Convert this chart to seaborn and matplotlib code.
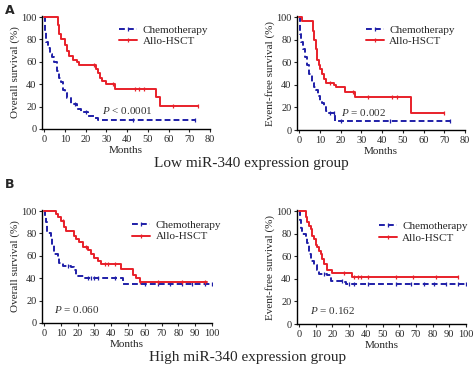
import numpy as np
import pandas as pd
import matplotlib
matplotlib.use('Agg')
import matplotlib.pyplot as plt
from matplotlib.lines import Line2D
import seaborn as sns

# Curvas de Kaplan-Meier (meses, supervivencia %)
a_os_chemo_t = [0, 0.3, 0.6, 1, 2, 3, 4, 5, 6, 7, 8, 9, 10, 11, 13, 16, 18, 21, 24, 26, 73]
a_os_chemo_s = [100, 95, 88, 78, 72, 67, 64, 60, 52, 46, 42, 35, 32, 28, 22, 18, 15, 12, 10, 8, 8]
a_os_chemo_c = [15, 20, 43, 73]
a_os_allo_t = [0, 6.5, 7, 8, 10, 11, 12, 14, 16, 17, 25, 26, 27, 28, 30, 34, 54, 56, 74]
a_os_allo_s = [100, 93, 85, 80, 75, 70, 65, 62, 60, 57, 54, 50, 46, 43, 40, 36, 29, 21, 21]
a_os_allo_c = [24, 33, 44, 46, 48, 62, 74]

a_efs_chemo_t = [0, 0.3, 0.6, 1, 2, 3, 4, 5, 6, 7, 8, 9, 10, 11, 12, 13, 14, 17.5, 73]
a_efs_chemo_s = [100, 92, 85, 78, 72, 65, 58, 50, 42, 38, 35, 30, 26, 24, 20, 17, 15, 8, 8]
a_efs_chemo_c = [15, 17, 20, 44, 73]
a_efs_allo_t = [0, 1.5, 6.5, 7, 8, 8.5, 9.5, 10, 11, 12, 13, 17, 18, 22, 27, 54, 70]
a_efs_allo_s = [100, 97, 88, 80, 72, 62, 58, 54, 50, 45, 42, 40, 38, 34, 29, 15, 15]
a_efs_allo_c = [15, 26, 33, 45, 47, 70]

b_os_chemo_t = [0, 0.5, 1, 2, 4, 5, 6, 8, 9, 11, 16, 18, 19, 24, 47, 100]
b_os_chemo_s = [100, 95, 90, 80, 78, 70, 62, 58, 54, 51, 50, 47, 42, 40, 35, 35]
b_os_chemo_c = [14, 26, 28, 30, 32, 42, 60, 68, 75, 82, 88, 96, 100]
b_os_allo_t = [0, 7, 8, 10, 12, 13, 18, 19, 21, 23, 26, 28, 30, 32, 34, 46, 53, 55, 57, 97]
b_os_allo_s = [100, 97, 95, 91, 86, 82, 78, 75, 72, 68, 65, 62, 58, 55, 53, 48, 43, 40, 37, 37]
b_os_allo_c = [11, 25, 36, 38, 42, 57, 68, 82, 96]

b_efs_chemo_t = [0, 0.5, 1, 2, 4, 5, 6, 7, 9, 11, 12, 17, 19, 27, 28, 100]
b_efs_chemo_s = [100, 92, 85, 80, 78, 72, 62, 56, 52, 48, 44, 43, 38, 37, 35, 35]
b_efs_chemo_c = [15, 26, 30, 33, 41, 58, 67, 75, 81, 88, 95, 100]
b_efs_allo_t = [0, 4, 5, 6, 7, 8, 9, 10, 11, 12, 13, 14, 15, 17, 20, 32, 95]
b_efs_allo_s = [100, 95, 90, 87, 84, 78, 75, 70, 68, 65, 62, 58, 53, 48, 45, 42, 42]
b_efs_allo_c = [27, 33, 35, 37, 41, 58, 68, 82, 95]

series_labels = ['Chemotherapy', 'Allo-HSCT']
p_texts = [r'$\it{P}$ < 0.0001', r'$\it{P}$ = 0.002', r'$\it{P}$ = 0.060', r'$\it{P}$ = 0.162']
group_titles = ['Low miR-340 expression group', 'High miR-340 expression group']

chemo_color = '#1f1fa8'
allo_color = '#e8202a'

sns.set_style('ticks')
plt.rcParams['font.family'] = ['Liberation Serif', 'DejaVu Serif']
plt.rcParams['mathtext.fontset'] = 'custom'
plt.rcParams['mathtext.it'] = 'Liberation Serif:italic'
plt.rcParams['mathtext.rm'] = 'Liberation Serif'

fig = plt.figure(figsize=(4.74, 3.67), dpi=100)
W, H = 474, 367


def make_ax(left, top, right, bottom):
    return fig.add_axes([left / W, 1 - bottom / H, (right - left) / W, (bottom - top) / H])


def step_value(t, s, x):
    i = np.searchsorted(t, x, side='right') - 1
    return np.asarray(s)[i]


def draw_curve(ax, t, s, c, color, dashed):
    df = pd.DataFrame({'t': t, 's': s})
    sns.lineplot(data=df, x='t', y='s', ax=ax, color=color, lw=1.4,
                 drawstyle='steps-post', estimator=None, sort=False,
                 dashes=False, linestyle=(0, (3, 1.6)) if dashed else '-')
    ax.plot(c, step_value(t, s, c), ls='none', marker='|', ms=3.5, mew=0.9, color=color)


panels = [
    (make_ax(42, 16, 210, 129), a_os_chemo_t, a_os_chemo_s, a_os_chemo_c,
     a_os_allo_t, a_os_allo_s, a_os_allo_c, 80, 'Overall survival (%)', (28, 13), (0.46, 0.92)),
    (make_ax(297, 16, 465, 130), a_efs_chemo_t, a_efs_chemo_s, a_efs_chemo_c,
     a_efs_allo_t, a_efs_allo_s, a_efs_allo_c, 80, 'Event-free survival (%)', (20, 12), (0.41, 0.92)),
    (make_ax(42, 210, 212, 323), b_os_chemo_t, b_os_chemo_s, b_os_chemo_c,
     b_os_allo_t, b_os_allo_s, b_os_allo_c, 100, 'Overall survival (%)', (6, 9), (0.53, 0.91)),
    (make_ax(297, 210, 466, 324), b_efs_chemo_t, b_efs_chemo_s, b_efs_chemo_c,
     b_efs_allo_t, b_efs_allo_s, b_efs_allo_c, 100, 'Event-free survival (%)', (6.5, 9), (0.485, 0.9)),
]

for k, (ax, ct, cs, cc, at, as_, ac, xmax, ylab, ppos, lpos) in enumerate(panels):
    draw_curve(ax, ct, cs, cc, chemo_color, True)
    draw_curve(ax, at, as_, ac, allo_color, False)
    ax.set_xlim(-xmax / 80, xmax)
    ax.set_ylim(0, 101)
    ax.set_xticks(np.arange(0, xmax + 1, 10))
    ax.set_yticks(np.arange(0, 101, 20))
    ax.tick_params(labelsize=7.5, length=2.5, width=0.8, pad=1.5)
    for sp in ['left', 'bottom']:
        ax.spines[sp].set_linewidth(1.0)
        ax.spines[sp].set_color('black')
    sns.despine(ax=ax)
    ax.set_xlabel('Months', fontsize=8, labelpad=2)
    ax.set_ylabel(ylab, fontsize=8, labelpad=1)
    ax.text(ppos[0], ppos[1], p_texts[k], fontsize=8, color='#333333')
    handles = [
        Line2D([], [], color=chemo_color, lw=1.4, ls=(0, (3, 1.6)), marker='|', ms=3.5, mew=0.9),
        Line2D([], [], color=allo_color, lw=1.4, marker='|', ms=3.5, mew=0.9),
    ]
    ax.legend(handles, series_labels, loc='upper left', bbox_to_anchor=lpos, frameon=False,
              fontsize=8, handlelength=1.6, handletextpad=0.5, borderpad=0,
              borderaxespad=0, labelspacing=0.15, numpoints=1)

fig.text(5 / W, 1 - 11 / H, 'A', fontsize=9, fontweight='bold', family='DejaVu Sans', va='center')
fig.text(5 / W, 1 - 185 / H, 'B', fontsize=9, fontweight='bold', family='DejaVu Sans', va='center')
fig.text(251 / W, 1 - 163 / H, group_titles[0], fontsize=11, ha='center', va='center')
fig.text(248 / W, 1 - 357 / H, group_titles[1], fontsize=11, ha='center', va='center')

fig.savefig('out.png', dpi=100)
